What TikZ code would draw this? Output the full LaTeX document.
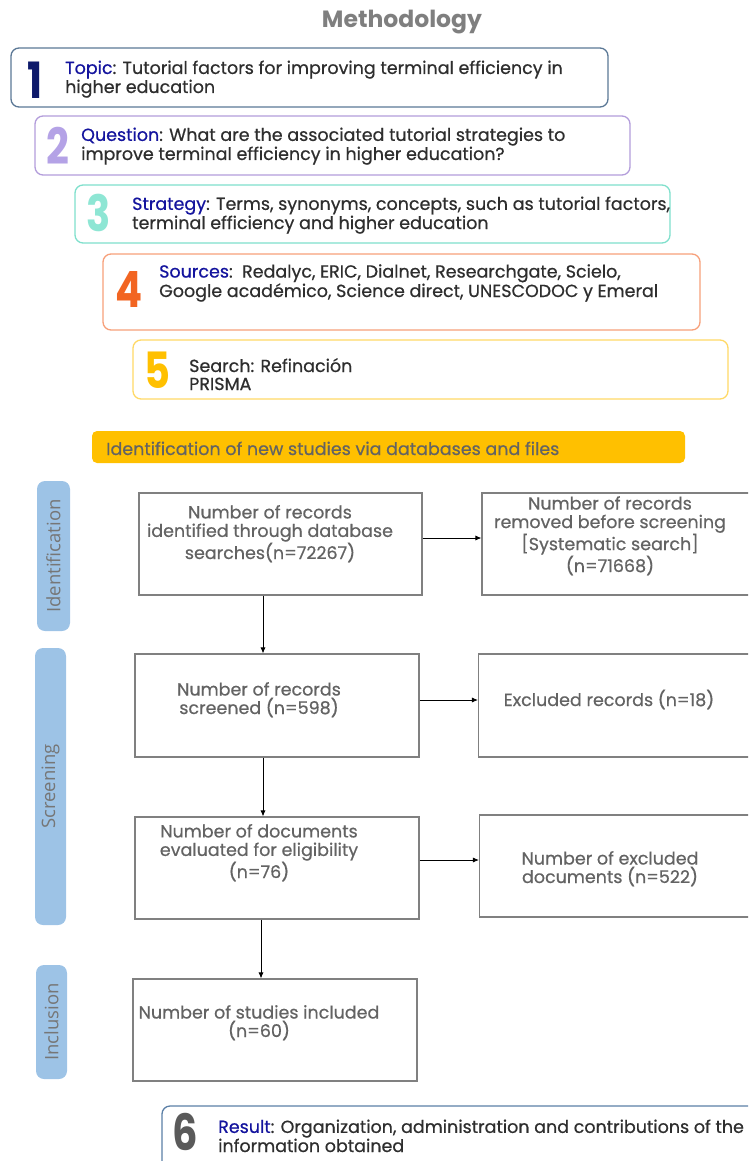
\documentclass[tikz,border=0pt]{standalone}
\usepackage{fontspec}
\setmainfont{Poppins}
\newfontfamily\medfont{Poppins}[FakeBold=0.6]
\newfontfamily\sidefont{Open Sans}
\usetikzlibrary{arrows.meta,calc}
\definecolor{navy}{HTML}{14149E}
\definecolor{numA}{HTML}{0E1A6B}
\definecolor{numB}{HTML}{B4A2E6}
\definecolor{numC}{HTML}{8EE6D4}
\definecolor{numD}{HTML}{F26522}
\definecolor{numE}{HTML}{FFC000}
\definecolor{numF}{HTML}{5A5A5A}
\definecolor{brdA}{HTML}{5B7896}
\definecolor{brdB}{HTML}{B39DDB}
\definecolor{brdC}{HTML}{7FE0CC}
\definecolor{brdD}{HTML}{F7A07A}
\definecolor{brdE}{HTML}{FFD966}
\definecolor{brdF}{HTML}{5B7FA6}
\definecolor{bodytext}{HTML}{2E2E2E}
\definecolor{flowgray}{HTML}{636363}
\definecolor{boxgray}{HTML}{808080}
\definecolor{sideblue}{HTML}{9DC3E6}
\definecolor{sidegray}{HTML}{767676}
\definecolor{gold}{HTML}{FFC000}
\definecolor{titlegray}{HTML}{7F7F7F}
\begin{document}
\begin{tikzpicture}[x=1pt,y=-1pt,
  topbox/.style={draw, rounded corners=8pt, line width=1.3pt, fill=white, inner sep=0pt},
  flowbox/.style={draw=boxgray, line width=1.1pt, inner sep=0pt},
  body/.style={font=\medfont\fontsize{17.5}{18}\selectfont, text=bodytext, align=left, inner sep=0pt, anchor=base west},
  flowtxt/.style={font=\medfont\fontsize{17.5}{18.5}\selectfont, text=flowgray, align=center, inner sep=0pt, anchor=base},
  bignum/.style={font=\fontsize{50}{50}\selectfont\bfseries, inner sep=0pt, anchor=center},
  sidebox/.style={fill=sideblue, rounded corners=8pt, inner sep=0pt},
  sidetxt/.style={font=\sidefont\fontsize{18.5}{18.5}\selectfont, text=sidegray, rotate=90, inner sep=0pt},
  arr/.style={-{Latex[length=6pt,width=5pt]}, line width=0.8pt}]
\path[use as bounding box] (0,0) rectangle (748,1161);
\clip (0,0) rectangle (748,1161);

% title
\node[font=\fontsize{23.5}{23.5}\selectfont\bfseries, text=titlegray, anchor=base, inner sep=0pt] (title) at (402,28) {Methodology};

% top boxes
\node[topbox, draw=brdA, minimum width=597pt, minimum height=59pt] (b1) at (309.5,77.5) {};
\node[topbox, draw=brdB, minimum width=595pt, minimum height=59pt] (b2) at (332.5,145.5) {};
\node[topbox, draw=brdC, minimum width=595pt, minimum height=58pt] (b3) at (372.5,214) {};
\node[topbox, draw=brdD, minimum width=597pt, minimum height=76pt] (b4) at (401.5,292) {};
\node[topbox, draw=brdE, minimum width=595pt, minimum height=59pt] (b5) at (430.5,369.5) {};

\node[bignum, text=numA] (n1) at (35,80) {\scalebox{0.8}[1]{1}};
\node[bignum, text=numB] (n2) at (58,146) {\scalebox{0.8}[1]{2}};
\node[bignum, text=numC] (n3) at (99,213) {\scalebox{0.8}[1]{3}};
\node[bignum, text=numD] (n4) at (129,289) {\scalebox{0.8}[1]{4}};
\node[bignum, text=numE] (n5) at (157,370) {\scalebox{0.8}[1]{5}};

\node[body] (t1) at (65,93) {\textcolor{navy}{Topic}: Tutorial factors for improving terminal efficiency in\\higher education};
\node[body] (t2) at (81,160) {\textcolor{navy}{Question}: What are the associated tutorial strategies to\\improve terminal efficiency in higher education?};
\node[body] (t3) at (132,229) {\textcolor{navy}{Strategy}: Terms, synonyms, concepts, such as tutorial factors,\\terminal efficiency and higher education};
\node[body] (t4) at (159,297) {\textcolor{navy}{Sources}:\ \ Redalyc, ERIC, Dialnet, Researchgate, Scielo,\\Google académico, Science direct, UNESCODOC y Emeral};
\node[body] (t5) at (189,390) {Search: Refinación\\PRISMA};

% banner
\node[fill=gold, rounded corners=5pt, minimum width=593pt, minimum height=32pt, inner sep=0pt] (banner) at (388.5,447) {};
\node[body, text=flowgray] (bannertxt) at (106,455) {Identification of new studies via databases and files};

% side labels
\node[sidebox, minimum width=33pt, minimum height=150pt] (sid) at (53.5,556) {};
\node[sidetxt] (sidt) at (sid.center) {Identification};
\node[sidebox, minimum width=31pt, minimum height=277pt] (ssc) at (50.5,786.5) {};
\node[sidetxt] (ssct) at (ssc.center) {Screening};
\node[sidebox, minimum width=31pt, minimum height=114pt] (sin) at (51.5,1022) {};
\node[sidetxt] (sint) at (sin.center) {Inclusion};

% flow boxes
\node[flowbox, minimum width=283pt, minimum height=102pt] (A) at (280.5,544) {};
\node[flowbox, minimum width=283pt, minimum height=102pt] (B) at (623.5,544) {};
\node[flowbox, minimum width=284pt, minimum height=103pt] (C) at (277,705.5) {};
\node[flowbox, minimum width=284pt, minimum height=103pt] (D) at (620.5,705.5) {};
\node[flowbox, minimum width=284pt, minimum height=102pt] (E) at (277,868) {};
\node[flowbox, minimum width=284pt, minimum height=102pt] (F) at (621.5,866) {};
\node[flowbox, minimum width=284pt, minimum height=102pt] (G) at (275,1030) {};

\node[flowtxt] (At) at (270,559) {Number of records\\identified through database\\searches(n=72267)};
\node[flowtxt] (Bt) at (610,572) {Number of records\\removed before screening\\{[}Systematic search{]}\\(n=71668)};
\node[flowtxt] (Ct) at (259,714) {Number of records\\screened (n=598)};
\node[flowtxt] (Dt) at (609,706) {Excluded records (n=18)};
\node[flowtxt] (Et) at (259,878) {Number of documents\\evaluated for eligibility\\(n=76)};
\node[flowtxt] (Ft) at (610,883) {Number of excluded\\documents (n=522)};
\node[flowtxt] (Gt) at (259,1037) {Number of studies included\\(n=60)};

% arrows
\draw[arr] (A.east |- 0,538) -- (B.west |- 0,538);
\draw[arr] (A.south -| 263,0) -- (C.north -| 263,0);
\draw[arr] (C.east |- 0,700) -- (D.west |- 0,700);
\draw[arr] (C.south -| 263,0) -- (E.north -| 263,0);
\draw[arr] (E.east |- 0,860) -- (F.west |- 0,860);
\draw[arr] (E.south -| 261,0) -- (G.north -| 261,0);

% result
\node[topbox, draw=brdF, minimum width=598pt, minimum height=69pt] (b6) at (461,1140.5) {};
\node[bignum, text=numF] (n6) at (185,1132) {\scalebox{0.8}[1]{6}};
\node[body] (t6) at (218,1152) {\textcolor{navy}{Result}: Organization, administration and contributions of the\\information obtained};
\end{tikzpicture}
\end{document}
